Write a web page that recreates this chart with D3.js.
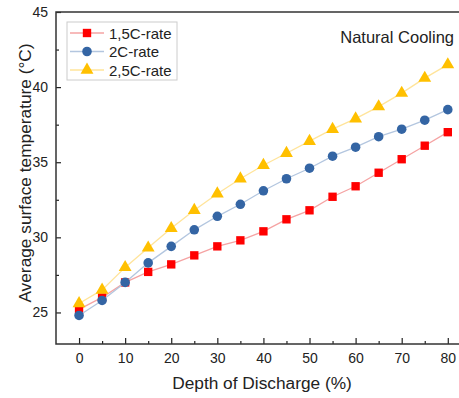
<!DOCTYPE html>
<html>
<head>
<meta charset="utf-8">
<script src="https://cdn.jsdelivr.net/npm/d3@7"></script>
<style>
  body { margin: 0; background: #fff; }
  text { font-family: "Liberation Sans", Arial, sans-serif; fill: #222; }
</style>
</head>
<body>
<svg id="vis"></svg>
<script>
const svg = d3.select("#vis").attr("width", 459).attr("height", 398);

const dod = [0, 5, 10, 15, 20, 25, 30, 35, 40, 45, 50, 55, 60, 65, 70, 75, 80];
const rate15 = [25.2, 26.0, 27.0, 27.7, 28.2, 28.8, 29.4, 29.8, 30.4, 31.2, 31.8, 32.7, 33.4, 34.3, 35.2, 36.1, 37.0];
const rate20 = [24.8, 25.8, 27.0, 28.3, 29.4, 30.5, 31.4, 32.2, 33.1, 33.9, 34.6, 35.4, 36.0, 36.7, 37.2, 37.8, 38.5];
const rate25 = [25.6, 26.5, 28.0, 29.3, 30.6, 31.8, 32.9, 33.9, 34.8, 35.6, 36.4, 37.2, 37.9, 38.7, 39.6, 40.6, 41.5];
const xTicks = [0, 10, 20, 30, 40, 50, 60, 70, 80];
const yTicks = [25, 30, 35, 40, 45];

const series = [
    {name: "1,5C-rate", values: rate15, marker: "square", fill: "#ff0000", line: "#f5a3a3"},
    {name: "2C-rate", values: rate20, marker: "circle", fill: "#3465a4", line: "#b3c6df"},
    {name: "2,5C-rate", values: rate25, marker: "triangle", fill: "#ffc000", line: "#ffe49a"},
];

const plotLeft = 56, plotRight = 463, plotTop = 12, plotBottom = 344;

let xscale = d3.scaleLinear().domain([-5, 83.3]).range([plotLeft, plotRight]);
let yscale = d3.scaleLinear().domain([22.9, 45]).range([plotBottom, plotTop]);

const symbols = {
    square: d3.symbol().type(d3.symbolSquare).size(70),
    circle: d3.symbol().type(d3.symbolCircle).size(72),
    triangle: d3.symbol().type(d3.symbolTriangle).size(72),
};

// axes with inward ticks
svg.append("g").attr("transform", `translate(0,${plotBottom})`)
    .call(d3.axisBottom(xscale).tickValues(xTicks).tickSize(-6).tickPadding(9).tickFormat(d3.format("d")));
svg.append("g").attr("transform", `translate(0,${plotBottom})`)
    .call(d3.axisBottom(xscale).tickValues(d3.range(5, 85, 10)).tickSize(-3).tickFormat(""));
svg.append("g").attr("transform", `translate(${plotLeft},0)`)
    .call(d3.axisLeft(yscale).tickValues(yTicks).tickSize(-5).tickPadding(8));
svg.append("g").attr("transform", `translate(${plotLeft},0)`)
    .call(d3.axisLeft(yscale).tickValues([27.5, 32.5, 37.5, 42.5]).tickSize(-3).tickFormat(""));

svg.selectAll(".domain").remove();
svg.selectAll(".tick line").attr("stroke", "#222").attr("stroke-width", 1.2);
svg.selectAll(".tick text").style("font-size", "14px").attr("fill", "#222");

// frame
svg.append("rect")
    .attr("x", plotLeft).attr("y", plotTop)
    .attr("width", plotRight - plotLeft).attr("height", plotBottom - plotTop)
    .attr("fill", "none").attr("stroke", "#333").attr("stroke-width", 1.5);

const line = d3.line().x((d, i) => xscale(dod[i])).y(d => yscale(d));

series.forEach(s => {
    svg.append("path")
        .attr("d", line(s.values))
        .attr("fill", "none")
        .attr("stroke", s.line)
        .attr("stroke-width", 1.3);
    svg.selectAll(".pt-" + s.marker).data(s.values).join("path")
        .attr("class", "pt-" + s.marker)
        .attr("d", symbols[s.marker])
        .attr("transform", (d, i) => `translate(${xscale(dod[i])},${yscale(d)})`)
        .attr("fill", s.fill);
});

// legend
const legend = svg.append("g");
legend.append("rect")
    .attr("x", 67).attr("y", 22).attr("width", 110).attr("height", 58)
    .attr("fill", "#fff").attr("stroke", "#ccc").attr("stroke-width", 1);
series.forEach((s, i) => {
    const ly = 33 + i * 18.5;
    legend.append("line")
        .attr("x1", 70).attr("x2", 104).attr("y1", ly).attr("y2", ly)
        .attr("stroke", s.line).attr("stroke-width", 1.3);
    legend.append("path")
        .attr("d", symbols[s.marker])
        .attr("transform", `translate(87,${ly})`)
        .attr("fill", s.fill);
    legend.append("text")
        .attr("x", 109).attr("y", ly + 5.5)
        .style("font-size", "15px")
        .text(s.name);
});

svg.append("text")
    .attr("x", 454).attr("y", 43)
    .attr("text-anchor", "end")
    .style("font-size", "16.5px")
    .text("Natural Cooling");

svg.append("text")
    .attr("x", 262).attr("y", 389)
    .attr("text-anchor", "middle")
    .style("font-size", "17.3px")
    .text("Depth of Discharge (%)");

svg.append("text")
    .attr("transform", "translate(31,173) rotate(-90)")
    .attr("text-anchor", "middle")
    .style("font-size", "17.3px")
    .text("Average surface temperature (°C)");
</script>
</body>
</html>
